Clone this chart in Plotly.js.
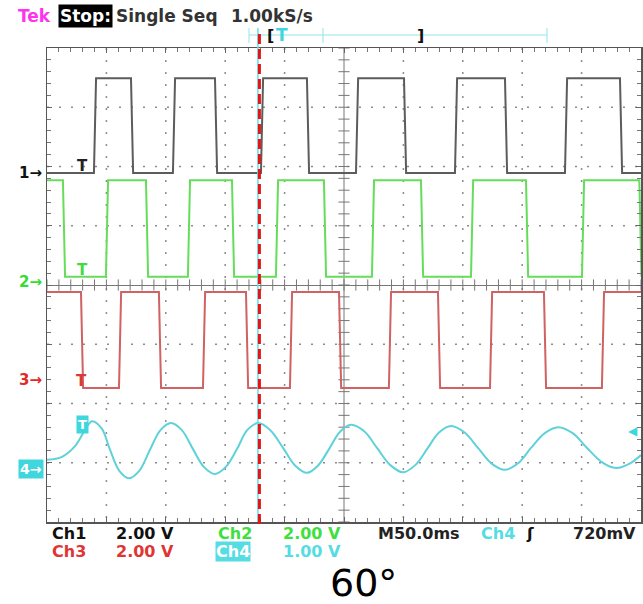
<!DOCTYPE html>
<html>
<head>
<meta charset="utf-8">
<script src="https://cdn.plot.ly/plotly-3.0.1.min.js"></script>
<style>html,body{margin:0;padding:0;background:#fff;}#chart{width:643px;height:604px;}</style>
</head>
<body>
<div id="chart"></div>
<script>
// ---- data (time in ms from left edge of screen, amplitude in screen divisions) ----
const timeRange = [0, 500];        // 10 div x 50.0 ms
const divRange = [-4, 4];          // 8 vertical divisions

// Ch1 (grey) square wave, starts low
const ch1Edges = [40.4, 71.6, 106.9, 142.3, 181.0, 219.7, 261.0, 301.4, 344.3, 386.4, 436.9, 483.2];
const ch1Low = 1.89, ch1High = 3.49;
// Ch2 (green) square wave, starts high
const ch2Edges = [14.3, 50.5, 84.2, 119.5, 156.6, 193.6, 234.0, 274.4, 315.7, 357.8, 404.1, 451.2, 499.5];
const ch2Low = 0.14, ch2High = 1.77;
// Ch3 (red) square wave, starts high
const ch3Edges = [29.5, 61.5, 95.1, 132.2, 168.4, 205.4, 246.7, 288.7, 330.0, 373.8, 419.2, 468.0];
const ch3Low = -1.74, ch3High = -0.12;
// Ch4 (cyan) sine-like signal, read point by point
const ch4Time = [0, 12.6, 23.6, 31.1, 37.9, 46.0, 53.0, 61.0, 69.0, 77.5, 86.7, 95.5, 104.4, 113.5, 122.9, 132.0, 141.4,
                 150.5, 159.9, 168.5, 177.6, 188.0, 198.7, 209.0, 218.9, 228.0, 237.4, 246.5, 255.9, 267.0, 277.8,
                 289.0, 299.7, 310.0, 319.9, 330.0, 340.1, 351.5, 362.8, 374.0, 385.5, 396.5, 407.4, 419.0, 430.2,
                 442.5, 454.6, 467.0, 479.0, 490.0, 500];
const ch4Div  = [-2.95, -2.90, -2.72, -2.48, -2.30, -2.42, -2.78, -3.14, -3.26, -3.14, -2.78, -2.45, -2.33, -2.45, -2.77,
                 -3.07, -3.19, -3.07, -2.77, -2.45, -2.33, -2.45, -2.75, -3.05, -3.17, -3.05, -2.77, -2.48, -2.36,
                 -2.47, -2.75, -3.04, -3.16, -3.04, -2.77, -2.49, -2.38, -2.49, -2.75, -3.01, -3.12, -3.01, -2.75,
                 -2.50, -2.40, -2.50, -2.75, -2.99, -3.09, -3.02, -2.87];
const cursorTime = 178.8;
const gridTimes = [50, 100, 150, 200, 300, 350, 400, 450];
const gridDivs = [-3, -2, -1, 1, 2, 3];

// ---- helpers ----
function stepTrace(edges, startLevel, otherLevel) {
  const x = [timeRange[0]], y = [startLevel];
  let cur = startLevel, nxt = otherLevel;
  edges.forEach(t => {
    x.push(t - 0.9); y.push(cur);
    x.push(t + 0.9); y.push(nxt);
    const tmp = cur; cur = nxt; nxt = tmp;
  });
  x.push(timeRange[1]); y.push(cur);
  return {x, y};
}
const L = 47, R = 641, T = 48, B = 522;
const px = v => (v - L) / (R - L);
const py = v => (B - v) / (B - T);
const FONT = "DejaVu Sans";

const s1 = stepTrace(ch1Edges, ch1Low, ch1High);
const s2 = stepTrace(ch2Edges, ch2High, ch2Low);
const s3 = stepTrace(ch3Edges, ch3High, ch3Low);

const traces = [];
// centre graticule tick marks
const hx = [], hy = [], vx = [], vy = [];
for (let t = timeRange[0]; t <= timeRange[1] + 1e-6; t += 10) { hx.push(t); hy.push(0); }
for (let v = divRange[0]; v <= divRange[1] + 1e-6; v += 0.2) { vx.push(250); vy.push(v); }
traces.push(
  {x: hx, y: hy, mode: 'markers', marker: {symbol: 'line-ns', size: 8, line: {color: '#777', width: 1}}, hoverinfo: 'skip'},
  {x: vx, y: vy, mode: 'markers', marker: {symbol: 'line-ew', size: 8, line: {color: '#777', width: 1}}, hoverinfo: 'skip'},
  {x: s1.x, y: s1.y, mode: 'lines', line: {color: '#5c5c5c', width: 2}},
  {x: s2.x, y: s2.y, mode: 'lines', line: {color: '#66dd5a', width: 2}},
  {x: s3.x, y: s3.y, mode: 'lines', line: {color: '#cf6262', width: 2}},
  {x: ch4Time, y: ch4Div, mode: 'lines', line: {color: '#5fd2d9', width: 2, shape: 'spline', smoothing: 1}}
);

function ann(x, y, text, color, opts) {
  return Object.assign({
    xref: 'paper', yref: 'paper', x: px(x), y: py(y), text: text, showarrow: false,
    xanchor: 'left', yanchor: 'middle',
    font: {family: FONT, size: 16, color: color, weight: 'bold'}
  }, opts || {});
}

const annotations = [
  ann(16, 16, 'Tek', '#ff33ee', {font: {family: FONT, size: 17, color: '#ff33ee', weight: 'bold'}}),
  ann(58, 16, 'Stop:', '#ffffff', {bgcolor: '#000', borderpad: 1, font: {family: FONT, size: 17, color: '#fff', weight: 'bold'}}),
  ann(114, 16, 'Single Seq', '#333', {font: {family: FONT, size: 17, color: '#333', weight: 'bold'}}),
  ann(229, 16, '1.00kS/s', '#333', {font: {family: FONT, size: 17, color: '#333', weight: 'bold'}}),
  ann(265, 35, '[', '#111', {font: {family: FONT, size: 16, color: '#111', weight: 'bold'}}),
  ann(274, 35, 'T', '#3fd6dd', {font: {family: FONT, size: 17, color: '#3fd6dd', weight: 'bold'}}),
  ann(415, 35, ']', '#111', {font: {family: FONT, size: 16, color: '#111', weight: 'bold'}}),
  // ground markers
  ann(44, 173, '1→', '#111', {xanchor: 'right', font: {family: FONT, size: 15, color: '#111', weight: 'bold'}}),
  ann(44, 282, '2→', '#33dd33', {xanchor: 'right', font: {family: FONT, size: 15, color: '#33dd33', weight: 'bold'}}),
  ann(44, 380, '3→', '#e02a2a', {xanchor: 'right', font: {family: FONT, size: 15, color: '#e02a2a', weight: 'bold'}}),
  ann(44, 469, '4→', '#fff', {xanchor: 'right', bgcolor: '#3fd6dd', borderpad: 1, font: {family: FONT, size: 14, color: '#fff', weight: 'bold'}}),
  // trigger markers
  ann(82, 166, 'T', '#222', {xanchor: 'center', font: {family: FONT, size: 15, color: '#222', weight: 'bold'}}),
  ann(82, 270, 'T', '#44d844', {xanchor: 'center', font: {family: FONT, size: 15, color: '#44d844', weight: 'bold'}}),
  ann(81, 381, 'T', '#d83a3a', {xanchor: 'center', font: {family: FONT, size: 15, color: '#d83a3a', weight: 'bold'}}),
  ann(82, 424, 'T', '#fff', {xanchor: 'center', bgcolor: '#3fd6dd', borderpad: 1, font: {family: FONT, size: 13, color: '#fff', weight: 'bold'}}),
  ann(640, 431, '◀', '#3fd6dd', {xanchor: 'right', font: {family: FONT, size: 12, color: '#3fd6dd'}}),
  // readouts
  ann(50, 533, 'Ch1', '#111'),
  ann(114, 533, '2.00 V', '#111'),
  ann(216, 533, 'Ch2', '#3ee03e', {font: {family: FONT, size: 16, color: '#3ee03e', weight: 'bold'}}),
  ann(281, 533, '2.00 V', '#3ee03e', {font: {family: FONT, size: 16, color: '#3ee03e', weight: 'bold'}}),
  ann(376, 533, 'M50.0ms', '#222'),
  ann(479, 533, 'Ch4', '#55dde3', {font: {family: FONT, size: 16, color: '#55dde3', weight: 'bold'}}),
  ann(524, 533, 'ʃ', '#111'),
  ann(571, 533, '720mV', '#222'),
  ann(50, 551, 'Ch3', '#e03535', {font: {family: FONT, size: 16, color: '#e03535', weight: 'bold'}}),
  ann(114, 551, '2.00 V', '#e03535', {font: {family: FONT, size: 16, color: '#e03535', weight: 'bold'}}),
  ann(215, 551, 'Ch4', '#fff', {bgcolor: '#55dde3', borderpad: 0, font: {family: FONT, size: 16, color: '#fff', weight: 'bold'}}),
  ann(281, 551, '1.00 V', '#55dde3', {font: {family: FONT, size: 16, color: '#55dde3', weight: 'bold'}}),
  ann(363, 583, '60°', '#000', {xanchor: 'center', font: {family: FONT, size: 38, color: '#000'}})
];

const cx = L + (cursorTime - timeRange[0]) / (timeRange[1] - timeRange[0]) * (R - L);
const gridLine = {color: '#8c8c8c', width: 1.5, dash: '2px,10px'};
const shapes = [];
gridTimes.forEach(t => shapes.push({type: 'line', xref: 'x', yref: 'y', x0: t, x1: t, y0: divRange[1], y1: divRange[0], line: gridLine, layer: 'below'}));
gridDivs.forEach(v => shapes.push({type: 'line', xref: 'x', yref: 'y', x0: timeRange[0], x1: timeRange[1], y0: v, y1: v, line: gridLine, layer: 'below'}));
shapes.push(
  {type: 'line', xref: 'x', yref: 'y', x0: 250, x1: 250, y0: divRange[0], y1: divRange[1], line: {color: '#777', width: 1}, layer: 'below'},
  // top marker bar
  {type: 'line', xref: 'paper', yref: 'paper', x0: px(249), x1: px(547), y0: py(35), y1: py(35), line: {color: '#8fe6ec', width: 1}},
  {type: 'line', xref: 'paper', yref: 'paper', x0: px(249), x1: px(249), y0: py(28), y1: py(43), line: {color: '#8fe6ec', width: 1}},
  {type: 'line', xref: 'paper', yref: 'paper', x0: px(323), x1: px(323), y0: py(28), y1: py(43), line: {color: '#8fe6ec', width: 1}},
  {type: 'line', xref: 'paper', yref: 'paper', x0: px(547), x1: px(547), y0: py(28), y1: py(43), line: {color: '#8fe6ec', width: 1}},
  // cursors
  {type: 'line', xref: 'paper', yref: 'paper', x0: px(cx - 1.5), x1: px(cx - 1.5), y0: py(522), y1: py(28), line: {color: '#66e0e8', width: 1.5}},
  {type: 'line', xref: 'paper', yref: 'paper', x0: px(cx), x1: px(cx), y0: py(524), y1: py(32), line: {color: '#e51515', width: 3, dash: '10px,5px'}}
);

const axisCommon = {
  showgrid: false,
  showline: true, linecolor: '#555', linewidth: 1.5, mirror: 'allticks',
  ticks: 'inside', ticklen: 5, tickcolor: '#666', showticklabels: false, fixedrange: true
};

const layout = {
  width: 643, height: 604,
  margin: {l: L, r: 643 - R, t: T, b: 604 - B},
  paper_bgcolor: '#fff', plot_bgcolor: '#fff',
  showlegend: false,
  xaxis: Object.assign({}, axisCommon, {range: timeRange, dtick: 50, tick0: 0, zeroline: false,
    minor: {dtick: 10, ticks: 'inside', ticklen: 4, tickcolor: '#777', showgrid: false}}),
  yaxis: Object.assign({}, axisCommon, {range: divRange, dtick: 1, tick0: 0, zeroline: true, zerolinecolor: '#777', zerolinewidth: 1,
    minor: {dtick: 0.2, ticks: 'inside', ticklen: 4, tickcolor: '#777', showgrid: false}}),
  annotations: annotations,
  shapes: shapes
};

Plotly.newPlot('chart', traces, layout, {staticPlot: true, displayModeBar: false});
</script>
</body>
</html>
